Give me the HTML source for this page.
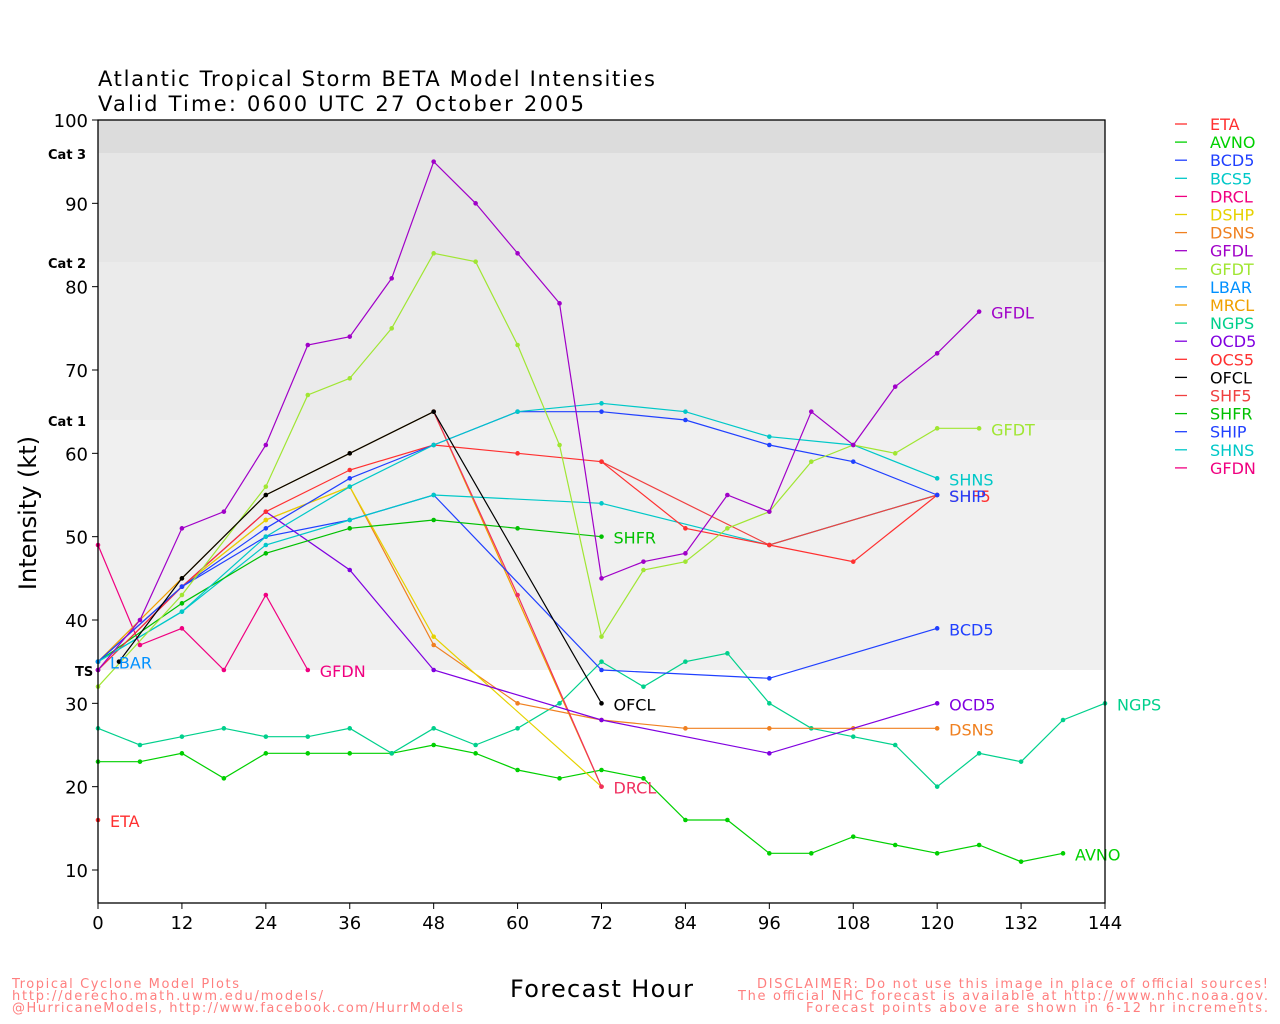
<!DOCTYPE html>
<html><head><meta charset="utf-8"><style>
html,body{margin:0;padding:0;background:#fff;}
svg{display:block;font-family:"DejaVu Sans","Liberation Sans",sans-serif;}
</style></head><body>
<svg id="s" width="1280" height="1024" xmlns="http://www.w3.org/2000/svg">
<rect width="1280" height="1024" fill="#fff"/>
<rect x="98" y="120" width="1007" height="33" fill="#dcdcdc"/>
<rect x="98" y="153" width="1007" height="109" fill="#e6e6e6"/>
<rect x="98" y="262" width="1007" height="158" fill="#ebebeb"/>
<rect x="98" y="420" width="1007" height="250" fill="#f0f0f0"/>
<text x="98" y="86" font-size="21" textLength="557" lengthAdjust="spacing">Atlantic Tropical Storm BETA Model Intensities</text>
<text x="98" y="111" font-size="21" textLength="486" lengthAdjust="spacing">Valid Time: 0600 UTC 27 October 2005</text>
<text x="48" y="159" font-size="13" font-weight="bold">Cat 3</text>
<text x="48" y="268" font-size="13" font-weight="bold">Cat 2</text>
<text x="48" y="426" font-size="13" font-weight="bold">Cat 1</text>
<text x="75" y="676" font-size="13" font-weight="bold">TS</text>
<text transform="translate(36,513) rotate(-90)" font-size="24" text-anchor="middle">Intensity (kt)</text>
<text x="510" y="997" font-size="24" textLength="183" lengthAdjust="spacing">Forecast Hour</text>
<g font-size="13" fill="#ff7f7f">
<text x="12" y="988" textLength="227" lengthAdjust="spacing">Tropical Cyclone Model Plots</text>
<text x="12" y="1000" textLength="311" lengthAdjust="spacing">http://derecho.math.uwm.edu/models/</text>
<text x="12" y="1012" textLength="451" lengthAdjust="spacing">@HurricaneModels, http://www.facebook.com/HurrModels</text>
<text x="757" y="988" textLength="511" lengthAdjust="spacing">DISCLAIMER: Do not use this image in place of official sources!</text>
<text x="738" y="1000" textLength="530" lengthAdjust="spacing">The official NHC forecast is available at http://www.nhc.noaa.gov.</text>
<text x="806" y="1012" textLength="462" lengthAdjust="spacing">Forecast points above are shown in 6-12 hr increments.</text>
</g>
<g id="g"></g>
<rect x="98" y="120" width="1007" height="783" fill="none" stroke="#000" stroke-width="1.3"/>
</svg>
<script>
var g=document.getElementById('g'),h='';
function X(t){return 98+t*1007/144}
function Y(v){return 120+(100-v)*750/90}
for(var v=10;v<=100;v+=10){h+='<line x1="92" x2="98" y1="'+Y(v)+'" y2="'+Y(v)+'" stroke="#000"/><text x="88" y="'+(Y(v)+7)+'" font-size="18" text-anchor="end">'+v+'</text>';}
for(var t=0;t<=144;t+=12){h+='<line x1="'+X(t)+'" x2="'+X(t)+'" y1="903" y2="909" stroke="#000"/><text x="'+X(t)+'" y="929" font-size="18" text-anchor="middle">'+t+'</text>';}
var S=[
['GFDN','#f00080',[[0,49],[6,37],[12,39],[18,34],[24,43],[30,34]],'GFDN',[30,34]],
['ETA','#ff3030',[[0,16]],'ETA',[0,16]],
['AVNO','#00d000',[[0,23],[6,23],[12,24],[18,21],[24,24],[30,24],[36,24],[42,24],[48,25],[54,24],[60,22],[66,21],[72,22],[78,21],[84,16],[90,16],[96,12],[102,12],[108,14],[114,13],[120,12],[126,13],[132,11],[138,12]],'AVNO',[138,12]],
['NGPS','#00d08c',[[0,27],[6,25],[12,26],[18,27],[24,26],[30,26],[36,27],[42,24],[48,27],[54,25],[60,27],[66,30],[72,35],[78,32],[84,35],[90,36],[96,30],[102,27],[108,26],[114,25],[120,20],[126,24],[132,23],[138,28],[144,30]],'NGPS',[144,30]],
['DSNS','#f08020',[[0,35],[12,44],[24,52],[36,56],[48,37],[60,30],[72,28],[84,27],[96,27],[108,27],[120,27]],'DSNS',[120,27]],
['DSHP','#e6d200',[[0,35],[12,44],[24,52],[36,56],[48,38],[72,20]],null],
['MRCL','#f0a000',[[0,35],[12,45],[24,55],[36,60],[48,65],[72,20]],null],
['DRCL','#f03060',[[48,65],[60,43],[72,20]],'DRCL',[72,20]],
['OCD5','#8000e0',[[0,34],[12,44],[24,53],[36,46],[48,34],[72,28],[96,24],[120,30]],'OCD5',[120,30]],
['BCD5','#2040ff',[[0,35],[12,44],[24,50],[36,52],[48,55],[72,34],[96,33],[120,39]],'BCD5',[120,39]],
['BCS5','#00c8c8',[[0,35],[12,41],[24,49],[36,52],[48,55],[72,54],[96,49],[120,55]],null],
['SHFR','#00c000',[[0,35],[12,42],[24,48],[36,51],[48,52],[60,51],[72,50]],'SHFR',[72,50]],
['SHF5','#f04040',[[72,59],[96,49],[120,55]],null],
['OCS5','#ff3030',[[0,34],[12,44],[24,53],[36,58],[48,61],[60,60],[72,59],[84,51],[96,49],[108,47],[120,55]],'SHF5',[120,55]],
['SHIP','#2040ff',[[0,35],[12,44],[24,51],[36,57],[48,61],[60,65],[72,65],[84,64],[96,61],[108,59],[120,55]],'SHIP',[120,55]],
['SHNS','#00c8c8',[[0,35],[12,41],[24,50],[36,56],[48,61],[60,65],[72,66],[84,65],[96,62],[108,61],[120,57]],'SHNS',[120,57]],
['GFDT','#a0e632',[[0,32],[12,43],[24,56],[30,67],[36,69],[42,75],[48,84],[54,83],[60,73],[66,61],[72,38],[78,46],[84,47],[90,51],[96,53],[102,59],[108,61],[114,60],[120,63],[126,63]],'GFDT',[126,63]],
['GFDL','#a000c8',[[0,34],[6,40],[12,51],[18,53],[24,61],[30,73],[36,74],[42,81],[48,95],[54,90],[60,84],[66,78],[72,45],[78,47],[84,48],[90,55],[96,53],[102,65],[108,61],[114,68],[120,72],[126,77]],'GFDL',[126,77]],
['OFCL','#000000',[[3,35],[12,45],[24,55],[36,60],[48,65],[72,30]],'OFCL',[72,30]],
['LBAR','#0090ff',[[0,35]],'LBAR',[0,35]]
];
S.forEach(function(s){
 var p=s[2].map(function(q){return X(q[0]).toFixed(1)+','+Y(q[1]).toFixed(1)}).join(' ');
 if(s[2].length>1)h+='<polyline points="'+p+'" fill="none" stroke="'+s[1]+'" stroke-width="1.2"/>';
 s[2].forEach(function(q){h+='<circle cx="'+X(q[0])+'" cy="'+Y(q[1])+'" r="2.3" fill="'+s[1]+'"/>';});
 if(s[3])h+='<text x="'+(X(s[4][0])+12)+'" y="'+(Y(s[4][1])+7)+'" font-size="16" fill="'+s[1]+'">'+s[3]+'</text>';
});
var L=[['ETA','#ff3030'],['AVNO','#00d000'],['BCD5','#2040ff'],['BCS5','#00c8c8'],['DRCL','#f00080'],['DSHP','#e6d200'],['DSNS','#f08020'],['GFDL','#a000c8'],['GFDT','#a0e632'],['LBAR','#0090ff'],['MRCL','#f0a000'],['NGPS','#00d08c'],['OCD5','#8000e0'],['OCS5','#ff3030'],['OFCL','#000000'],['SHF5','#f04040'],['SHFR','#00c000'],['SHIP','#2040ff'],['SHNS','#00c8c8'],['GFDN','#f00080']];
L.forEach(function(l,i){var y=124+i*18.1;h+='<line x1="1175" x2="1187" y1="'+y+'" y2="'+y+'" stroke="'+l[1]+'" stroke-width="1.3"/><text x="1210" y="'+(y+6)+'" font-size="16" fill="'+l[1]+'">'+l[0]+'</text>';});
g.innerHTML=h;
</script>
</body></html>
